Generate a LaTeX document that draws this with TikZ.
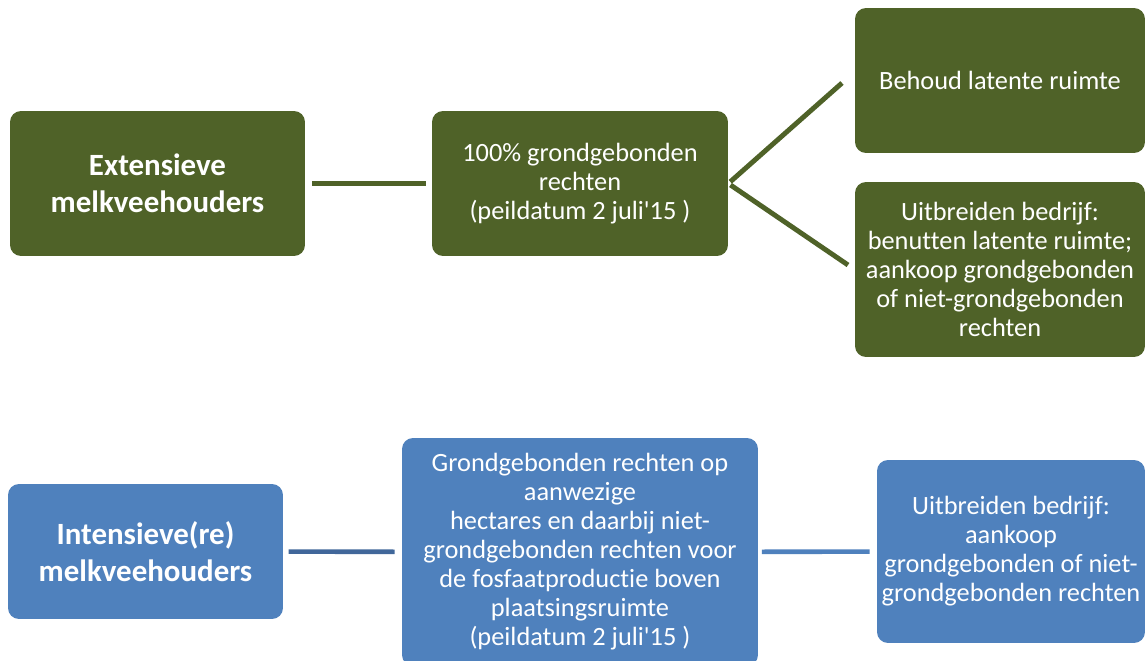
\documentclass[tikz,border=0pt]{standalone}
\usepackage{fontspec}
\setmainfont{Carlito}[Ligatures=CommonOff]
\usepackage{tikz}
\usetikzlibrary{positioning}
\definecolor{extgreen}{HTML}{4F6228}
\definecolor{intblue}{HTML}{4F81BD}
\definecolor{linkblue}{HTML}{41679A}
\tikzset{groupbox/.style={rectangle,rounded corners=.22cm,draw=none,
 text=white,align=center,inner sep=2pt,font=\fontsize{17.6}{20.8}\selectfont\bfseries},
 greenbox/.style={groupbox,fill=extgreen},
 bluebox/.style={groupbox,fill=intblue},
 infogreen/.style={greenbox,font=\fontsize{15}{16.5}\selectfont},
 infoblue/.style={bluebox,font=\fontsize{15}{16.5}\selectfont},
 greenlink/.style={draw=extgreen,line width=2.8pt},
 bluelink/.style={draw=linkblue,line width=2.6pt}}

\begin{document}
\begin{tikzpicture}[x=.02cm,y=-.02cm]
 \clip (0,0) rectangle (1146,661);
 \fill[white] (0,0) rectangle (1146,661);
 % extensieve tak
 \node[greenbox,minimum width=5.9cm,minimum height=2.9cm] (ext) at (157.5,183.5)
  {Extensieve\\melkveehouders};
 \node[infogreen,minimum width=5.92cm,minimum height=2.9cm] (extrights) at (580,183.5)
  {100\% grondgebonden\\rechten\\(peildatum 2 juli\textquotesingle15 )};
 \node[infogreen,minimum width=5.8cm,minimum height=2.9cm] (keep) at (1000,80.5)
  {Behoud latente ruimte};
 \node[infogreen,minimum width=5.8cm,minimum height=3.5cm] (extgrow) at (1000,269.5)
  {Uitbreiden bedrijf:\\benutten latente ruimte;\\aankoop grondgebonden\\of niet-grondgebonden\\rechten};
 \coordinate (forktop) at (842,83);
 \coordinate (forkbottom) at (848,265);
 \draw[greenlink,shorten <=4pt,shorten >=3pt] (ext) -- (extrights);
 \draw[greenlink,shorten <=1.5pt] (extrights.east) -- (forktop);
 \draw[greenlink,shorten <=1.5pt] (extrights.east) -- (forkbottom);
 % intensieve tak
 \node[bluebox,minimum width=5.5cm,minimum height=2.7cm] (int) at (145.5,551.5)
  {Intensieve(re)\\melkveehouders};
 \node[infoblue,minimum width=7.12cm,minimum height=4.56cm] (intrights) at (580,552)
  {Grondgebonden rechten op\\aanwezige\\hectares en daarbij niet-\\grondgebonden rechten voor\\de fosfaatproductie boven\\plaatsingsruimte\\(peildatum 2 juli\textquotesingle15 )};
 \node[infoblue,minimum width=5.36cm,minimum height=3.66cm] (intgrow) at (1011,551.5)
  {Uitbreiden bedrijf:\\aankoop\\grondgebonden of niet-\\grondgebonden rechten};
 \draw[bluelink,shorten <=3pt,shorten >=4pt] (int) -- (intrights);
 \draw[bluelink,draw=intblue,shorten <=2pt,shorten >=4pt] (intrights) -- (intgrow);
\end{tikzpicture}
\end{document}
